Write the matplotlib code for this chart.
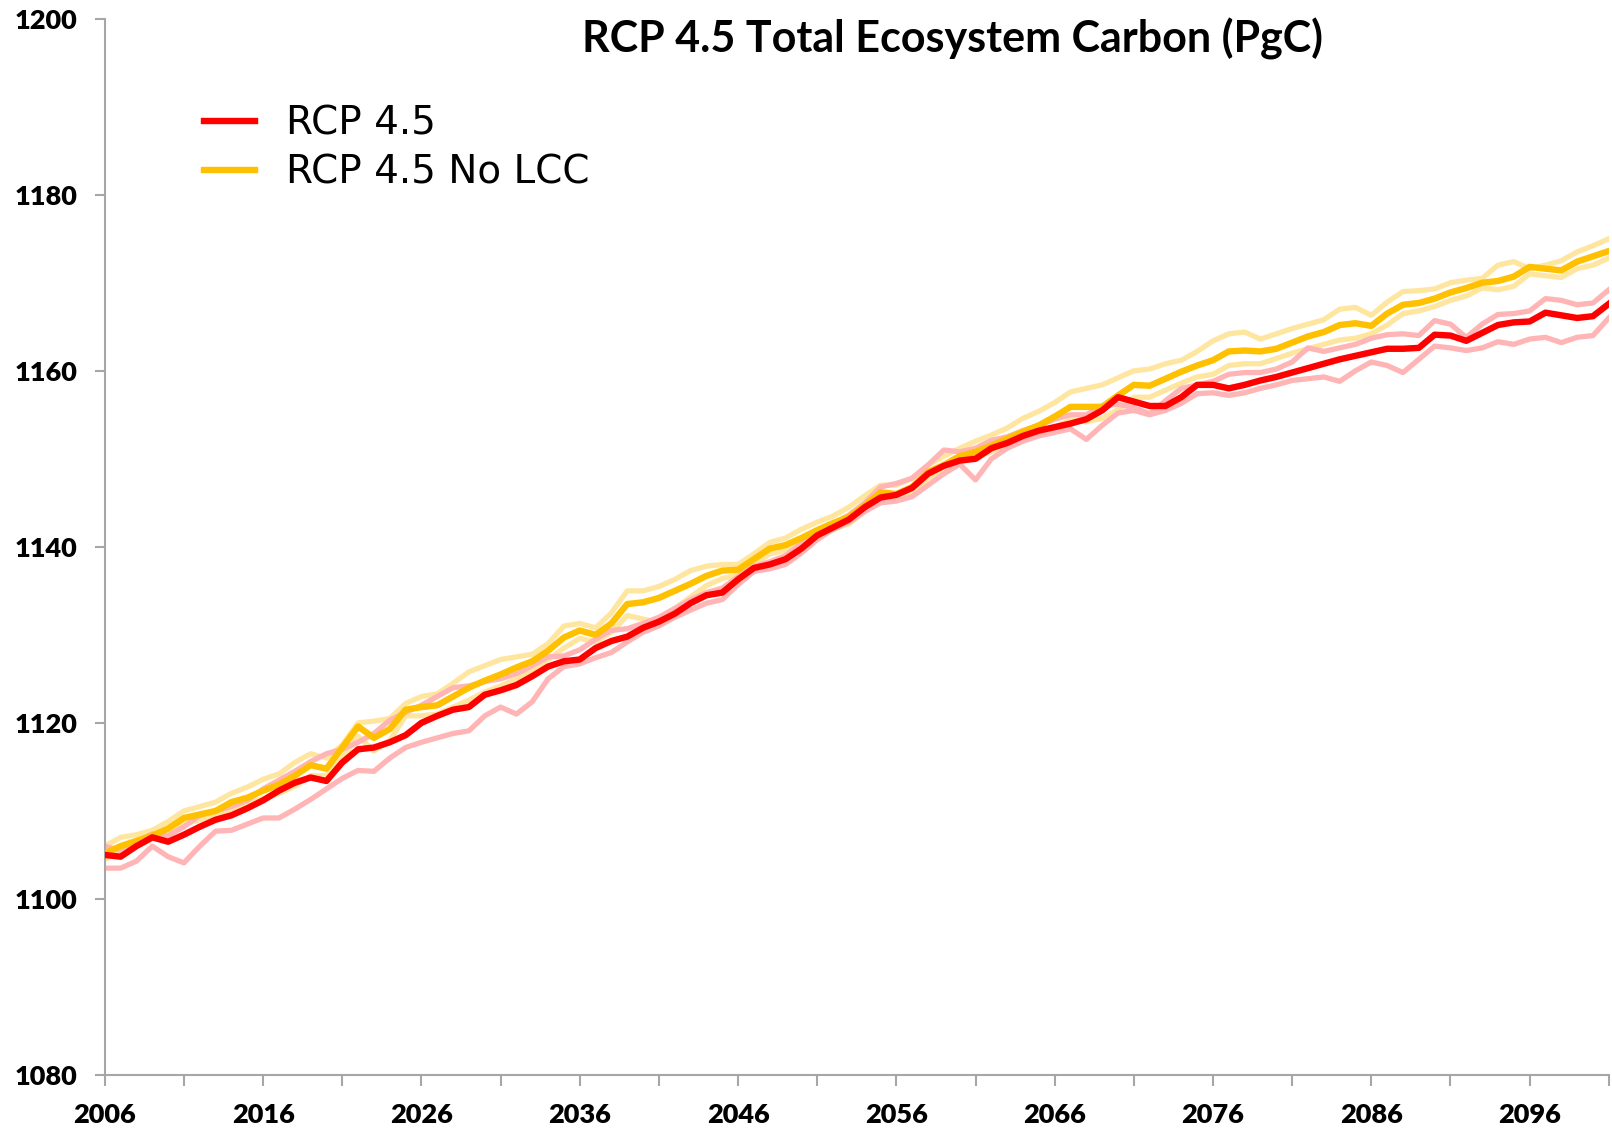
import matplotlib
matplotlib.use("Agg")
import matplotlib.pyplot as plt
import numpy as np

years = list(range(2006, 2102))

rcp45 = [1105.0, 1104.8, 1106.0, 1107.0, 1106.5, 1107.3, 1108.2, 1109.0, 1109.5, 1110.3,
         1111.2, 1112.3, 1113.2, 1113.8, 1113.4, 1115.5, 1117.0, 1117.2, 1117.8, 1118.6,
         1120.0, 1120.8, 1121.5, 1121.8, 1123.2, 1123.7, 1124.3, 1125.3, 1126.4, 1127.0,
         1127.2, 1128.5, 1129.3, 1129.8, 1130.8, 1131.5, 1132.4, 1133.6, 1134.5, 1134.8,
         1136.3, 1137.6, 1138.0, 1138.6, 1139.8, 1141.3, 1142.2, 1143.1, 1144.5, 1145.6,
         1145.9, 1146.7, 1148.3, 1149.2, 1149.8, 1150.0, 1151.2, 1151.8, 1152.6, 1153.2,
         1153.6, 1154.0, 1154.5, 1155.5, 1157.0, 1156.5, 1156.0, 1156.0, 1157.0, 1158.4,
         1158.4, 1158.0, 1158.4, 1158.9, 1159.3, 1159.8, 1160.3, 1160.8, 1161.3, 1161.7,
         1162.1, 1162.5, 1162.5, 1162.6, 1164.1, 1164.0, 1163.4, 1164.3, 1165.2, 1165.5,
         1165.6, 1166.6, 1166.3, 1166.0, 1166.2, 1167.6]

rcp45_nolcc = [1105.2, 1106.0, 1106.6, 1107.2, 1108.0, 1109.2, 1109.6, 1110.0, 1111.0, 1111.5,
               1112.3, 1113.0, 1114.0, 1115.2, 1114.8, 1117.2, 1119.6, 1118.3, 1119.3, 1121.5,
               1121.8, 1122.0, 1123.0, 1124.0, 1124.8, 1125.5, 1126.3, 1127.0, 1128.2, 1129.7,
               1130.5, 1130.0, 1131.3, 1133.5, 1133.7, 1134.2, 1135.0, 1135.8, 1136.7, 1137.3,
               1137.4, 1138.6, 1139.8, 1140.2, 1141.0, 1141.9, 1142.7, 1143.4, 1144.7, 1146.2,
               1146.0, 1146.8, 1148.5, 1149.3, 1150.3, 1150.8, 1151.5, 1152.3, 1153.1, 1153.8,
               1154.8, 1155.9, 1155.9, 1155.9, 1157.2, 1158.4, 1158.3, 1159.1, 1159.9, 1160.6,
               1161.2, 1162.2, 1162.3, 1162.2, 1162.5, 1163.2, 1163.9, 1164.4, 1165.2, 1165.4,
               1165.1, 1166.5, 1167.5, 1167.7, 1168.2, 1168.9, 1169.4, 1170.0, 1170.2, 1170.7,
               1171.8, 1171.6, 1171.4, 1172.4, 1173.0, 1173.6]

rcp45_member_a = [1103.5, 1103.5, 1104.3, 1106.0, 1104.8, 1104.1, 1106.0, 1107.7, 1107.8, 1108.5,
                  1109.2, 1109.2, 1110.2, 1111.3, 1112.5, 1113.7, 1114.6, 1114.5, 1116.0, 1117.2,
                  1117.8, 1118.3, 1118.8, 1119.1, 1120.8, 1121.8, 1121.0, 1122.4, 1125.0, 1126.4,
                  1126.7, 1127.4, 1128.0, 1129.2, 1130.3, 1131.0, 1132.0, 1132.8, 1133.6, 1134.0,
                  1135.7, 1137.2, 1137.5, 1138.0, 1139.3, 1140.8, 1142.0, 1142.8, 1144.0, 1145.0,
                  1145.2, 1145.7, 1147.0, 1148.3, 1149.4, 1147.6, 1150.0, 1151.2, 1152.0, 1152.6,
                  1153.0, 1153.4, 1152.2, 1153.8, 1155.2, 1155.5, 1155.0, 1155.5, 1156.3, 1157.4,
                  1157.5, 1157.2, 1157.5, 1158.0, 1158.4, 1158.9, 1159.1, 1159.3, 1158.8, 1160.0,
                  1161.0, 1160.6, 1159.8, 1161.3, 1162.8, 1162.6, 1162.3, 1162.6, 1163.3, 1163.0,
                  1163.6, 1163.8, 1163.2, 1163.8, 1164.0, 1166.0]

rcp45_member_b = [1106.0, 1105.5, 1106.5, 1107.4, 1107.2, 1108.2, 1109.5, 1110.0, 1110.5, 1111.2,
                  1112.5, 1113.5, 1114.5, 1115.6, 1116.5, 1117.0, 1117.8, 1118.8, 1120.3, 1121.2,
                  1122.0, 1123.0, 1124.0, 1124.2, 1124.7, 1125.0, 1125.6, 1126.5, 1127.5, 1127.6,
                  1128.3, 1129.5, 1130.5, 1130.7, 1131.3, 1132.0, 1133.0, 1134.0, 1134.8, 1135.3,
                  1136.6, 1137.8, 1138.3, 1139.0, 1140.4, 1141.8, 1142.6, 1143.6, 1145.0, 1146.8,
                  1147.2, 1147.8, 1149.3, 1151.0, 1150.8, 1151.2, 1152.1, 1152.5, 1153.2, 1153.8,
                  1154.5, 1155.0, 1155.0, 1156.0, 1156.2, 1155.8, 1155.1, 1156.6, 1158.0, 1158.4,
                  1158.8, 1159.6, 1159.8, 1159.8, 1160.2, 1161.0, 1162.6, 1162.2, 1162.6, 1163.0,
                  1163.7, 1164.1, 1164.2, 1164.0, 1165.7, 1165.3, 1163.8, 1165.3, 1166.4, 1166.5,
                  1166.8, 1168.2, 1168.0, 1167.5, 1167.7, 1169.2]

nolcc_member_a = [1106.0, 1107.0, 1107.3, 1107.8, 1108.8, 1110.0, 1110.5, 1111.0, 1112.0, 1112.7,
                  1113.6, 1114.2, 1115.5, 1116.5, 1116.0, 1117.5, 1120.0, 1120.2, 1120.5, 1122.2,
                  1123.0, 1123.3, 1124.5, 1125.8, 1126.5, 1127.2, 1127.5, 1127.8, 1129.0, 1131.0,
                  1131.3, 1130.8, 1132.5, 1135.0, 1135.0, 1135.5, 1136.3, 1137.3, 1137.8, 1138.0,
                  1138.0, 1139.2, 1140.5, 1141.0, 1142.0, 1142.8, 1143.5, 1144.5, 1145.8, 1147.0,
                  1147.0, 1147.8, 1149.3, 1150.3, 1151.2, 1152.0, 1152.7, 1153.5, 1154.6, 1155.4,
                  1156.4, 1157.6, 1158.0, 1158.4, 1159.2, 1160.0, 1160.2, 1160.8, 1161.2, 1162.2,
                  1163.4, 1164.2, 1164.4, 1163.6, 1164.2, 1164.8, 1165.3, 1165.8, 1167.0, 1167.2,
                  1166.3, 1167.8, 1169.0, 1169.1, 1169.3, 1170.0, 1170.3, 1170.5, 1172.0, 1172.4,
                  1171.6, 1172.0, 1172.5, 1173.5, 1174.2, 1175.0]

nolcc_member_b = [1104.5, 1105.4, 1106.0, 1106.8, 1107.5, 1108.5, 1109.0, 1109.5, 1110.2, 1110.8,
                  1111.4, 1112.0, 1112.8, 1114.0, 1114.0, 1116.0, 1118.5, 1116.8, 1118.0, 1120.8,
                  1120.8, 1121.0, 1121.8, 1122.6, 1123.5, 1124.2, 1125.0, 1126.0, 1127.2, 1128.5,
                  1129.6, 1129.2, 1130.3, 1132.2, 1131.8, 1131.4, 1133.0, 1134.3, 1135.6, 1136.4,
                  1136.8, 1138.0, 1139.2, 1139.6, 1140.3, 1141.2, 1142.0, 1142.6, 1144.0, 1145.6,
                  1145.4, 1146.0, 1147.8, 1148.6, 1149.6, 1150.2, 1150.8, 1151.6, 1152.3, 1153.0,
                  1153.6, 1154.4, 1154.2, 1154.6, 1155.6, 1157.0, 1157.0, 1157.8, 1158.6, 1159.3,
                  1159.6, 1160.6, 1160.8, 1160.8, 1161.4, 1162.0, 1162.5, 1163.0, 1163.5, 1163.7,
                  1164.2, 1165.2, 1166.5, 1166.8, 1167.3, 1168.0, 1168.5, 1169.4, 1169.2, 1169.6,
                  1171.0, 1170.8, 1170.6, 1171.6, 1172.0, 1172.8]

x_major = list(range(2006, 2102, 10))
x_minor = list(range(2006, 2102, 5))
y_ticks = [1080, 1100, 1120, 1140, 1160, 1180, 1200]

title = "RCP 4.5 Total Ecosystem Carbon (PgC)"
label_main = "RCP 4.5"
label_nolcc = "RCP 4.5 No LCC"

RED = "#FF0000"
ORANGE = "#FFC000"
RED_LIGHT = "#FFB5B5"
ORANGE_LIGHT = "#FFE6A0"
AXIS = "#A6A6A6"

fig = plt.figure(figsize=(16.12, 11.31), dpi=100)
ax = fig.add_axes([0.065, 0.0495, 0.933, 0.934])

for s in (nolcc_member_a, nolcc_member_b):
    ax.plot(years, s, color=ORANGE_LIGHT, lw=3.8, solid_joinstyle="round", zorder=2)
for s in (rcp45_member_a, rcp45_member_b):
    ax.plot(years, s, color=RED_LIGHT, lw=3.8, solid_joinstyle="round", zorder=2)

l2, = ax.plot(years, rcp45_nolcc, color=ORANGE, lw=4.6, solid_joinstyle="round", zorder=3, label=label_nolcc)
l1, = ax.plot(years, rcp45, color=RED, lw=4.6, solid_joinstyle="round", zorder=4, label=label_main)

ax.set_xlim(2006, 2101)
ax.set_ylim(1080, 1200)
ax.set_yticks(y_ticks)
ax.set_yticklabels([str(v) for v in y_ticks])
ax.set_xticks(x_major)
ax.set_xticklabels([str(v) for v in x_major])
ax.set_xticks(x_minor, minor=True)

for sp in ("top", "right"):
    ax.spines[sp].set_visible(False)
for sp in ("left", "bottom"):
    ax.spines[sp].set_color(AXIS)
    ax.spines[sp].set_linewidth(1.5)

ax.tick_params(axis="both", which="both", color=AXIS, width=1.5, direction="out")
ax.tick_params(axis="x", which="major", length=8, pad=12)
ax.tick_params(axis="x", which="minor", length=8)
ax.tick_params(axis="y", which="major", length=7, pad=13)
for lab in ax.get_xticklabels() + ax.get_yticklabels():
    lab.set_fontfamily("Lato")
    lab.set_fontweight("heavy")
    lab.set_fontsize(19.5)

ax.text(0.5635, 0.981, title, transform=ax.transAxes, ha="center", va="center",
        fontsize=31, fontweight="bold", family="Lato")

leg = ax.legend(handles=[l1, l2], loc="upper left", bbox_to_anchor=(0.066, 0.919),
                frameon=False, handlelength=1.3, handletextpad=0.8, borderpad=0,
                borderaxespad=0, labelspacing=0.3,
                prop={"family": "DejaVu Sans", "size": 28})

fig.savefig("out.png", dpi=100, facecolor="white")
